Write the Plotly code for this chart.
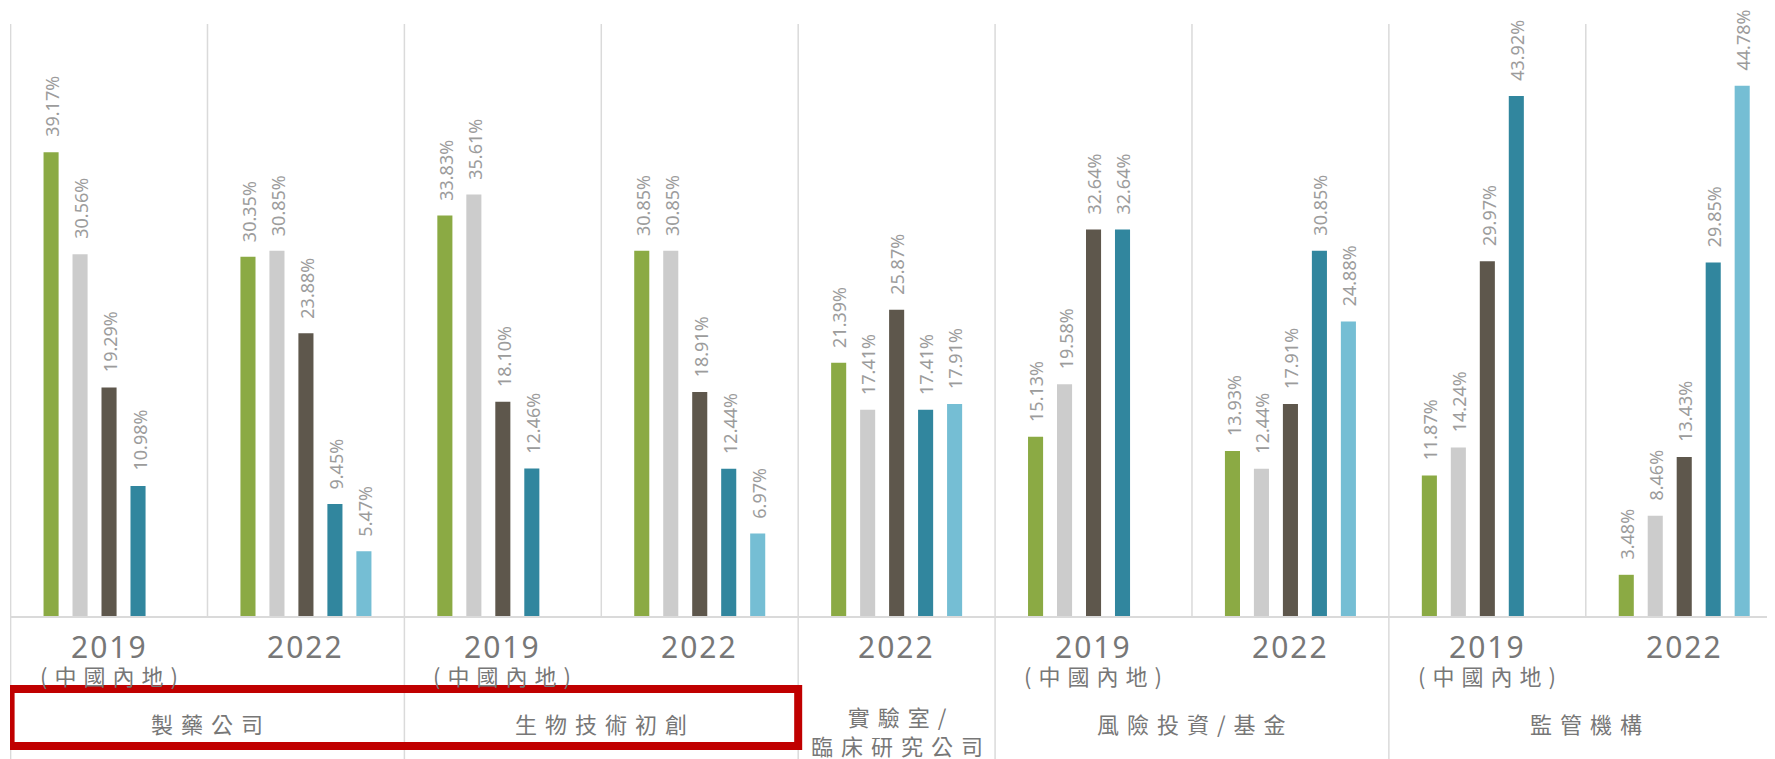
import plotly.graph_objects as go

# ---------------- data ----------------
groups = ["製藥公司", "製藥公司", "生物技術初創", "生物技術初創", "實驗室/\n臨床研究公司",
          "風險投資/基金", "風險投資/基金", "監管機構", "監管機構"]
years = ["2019", "2022", "2019", "2022", "2022", "2019", "2022", "2019", "2022"]
regions = ["(中國內地)", "", "(中國內地)", "", "", "(中國內地)", "", "(中國內地)", ""]

s1 = [39.17, 30.35, 33.83, 30.85, 21.39, 15.13, 13.93, 11.87, 3.48]
s2 = [30.56, 30.85, 35.61, 30.85, 17.41, 19.58, 12.44, 14.24, 8.46]
s3 = [19.29, 23.88, 18.10, 18.91, 25.87, 32.64, 17.91, 29.97, 13.43]
s4 = [10.98, 9.45, 12.46, 12.44, 17.41, 32.64, 30.85, 43.92, 29.85]
s5 = [None, 5.47, None, 6.97, 17.91, None, 24.88, None, 44.78]
series = [s1, s2, s3, s4, s5]
colors = ["#8BAA44", "#CCCCCC", "#5E574C", "#31869E", "#75BED4"]

# ---------------- style ----------------
BARGAP = 0.264
BARGROUPGAP = 0.48
LABEL_GREY = "#9c9c9c"
AXIS_TEXT = "#777777"
LINE_GREY = "#dadada"
LATIN = "Noto Sans"
CJK = "Noto Sans CJK TC"

x = list(range(len(years)))

fig = go.Figure()
for vals, col in zip(series, colors):
    fig.add_trace(go.Bar(x=x, y=vals, marker=dict(color=col, line=dict(width=0)),
                         hoverinfo="skip", showlegend=False))

annotations = []
slot = (1 - BARGAP) / len(series)
for j, vals in enumerate(series):
    for i, v in enumerate(vals):
        if v is None:
            continue
        annotations.append(dict(
            x=i + (j - (len(series) - 1) / 2) * slot, y=v, xref="x", yref="y",
            text=f"{v:.2f}%", textangle=-90, showarrow=False,
            xanchor="center", yanchor="bottom", yshift=13, xshift=1,
            font=dict(family=LATIN, size=18, color=LABEL_GREY)))

# category labels (years + region)
for i, (yr, rg) in enumerate(zip(years, regions)):
    annotations.append(dict(
        x=i, y=0, xref="x", yref="paper", showarrow=False,
        text=f"<span style='letter-spacing:2px'>{yr}</span>",
        xanchor="center", yanchor="middle", yshift=-30,
        font=dict(family=LATIN, size=30, color=AXIS_TEXT)))
    if rg:
        annotations.append(dict(
            x=i, y=0, xref="x", yref="paper", showarrow=False,
            text=f"<span style='letter-spacing:7px'>{rg}</span>",
            xanchor="center", yanchor="middle", yshift=-59, xshift=3,
            font=dict(family=CJK, size=22, color=AXIS_TEXT)))

# group labels
shapes = []
i = 0
n = len(groups)
while i < n:
    k = i
    while k + 1 < n and groups[k + 1] == groups[i]:
        k += 1
    lines = groups[i].split("\n")
    txt = "<br>".join(f"<span style='letter-spacing:8px'>{ln}</span>" for ln in lines)
    annotations.append(dict(
        x=(i + k) / 2, y=0, xref="x", yref="paper", showarrow=False,
        text=txt, xanchor="center", yanchor="middle", xshift=4,
        yshift=-107 if len(lines) == 1 else -114,
        font=dict(family=CJK, size=22, color=AXIS_TEXT)))
    # group separator extends through label area
    shapes.append(dict(type="line", xref="x", yref="paper", x0=i - 0.5, x1=i - 0.5,
                       y0=-0.3, y1=1, line=dict(color=LINE_GREY, width=1.5), layer="below"))
    # inner separators (between years in same group)
    for m in range(i + 1, k + 1):
        shapes.append(dict(type="line", xref="x", yref="paper", x0=m - 0.5, x1=m - 0.5,
                           y0=0, y1=1, line=dict(color=LINE_GREY, width=1.5), layer="below"))
    i = k + 1
shapes.append(dict(type="line", xref="x", yref="paper", x0=n - 0.5, x1=n - 0.5,
                   y0=-0.3, y1=1, line=dict(color=LINE_GREY, width=1.5), layer="below"))

# red highlight box around first two groups
shapes.append(dict(type="rect", xref="x", yref="paper", x0=-0.5, x1=3.5,
                   ysizemode="pixel", yanchor=0, y0=-73, y1=-130,
                   line=dict(color="#C00000", width=8), fillcolor="rgba(0,0,0,0)",
                   layer="above"))

# page body has an 8px default margin, so the figure is 8px smaller than the window
fig.update_layout(
    width=1767, height=751,
    margin=dict(l=2, r=0, t=16, b=143),
    paper_bgcolor="white", plot_bgcolor="white",
    barmode="group", bargap=BARGAP, bargroupgap=BARGROUPGAP,
    xaxis=dict(range=[-0.503, 8.461], showgrid=False, zeroline=False,
               showticklabels=False, ticks="", showline=True,
               linecolor=LINE_GREY, linewidth=2, fixedrange=True),
    yaxis=dict(range=[0, 50], visible=False, fixedrange=True),
    annotations=annotations, shapes=shapes,
    showlegend=False,
)

fig.write_html("out.html")
